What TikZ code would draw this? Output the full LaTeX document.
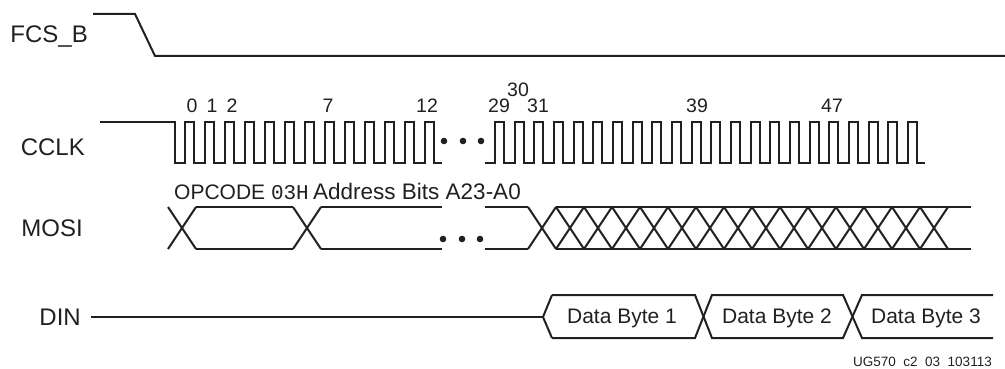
\documentclass[tikz,border=0pt]{standalone}
\usepackage{fontspec}
\setmainfont{Liberation Sans}
\setmonofont{Liberation Mono}
\definecolor{sigln}{HTML}{231F20}

\begin{document}
\begin{tikzpicture}[
    x=1pt,y=-1pt,
    sig/.style={draw=sigln,line width=2pt,line join=miter},
    siglbl/.style={font=\fontsize{24}{28}\selectfont,text=sigln,anchor=base east,inner sep=0pt},
    clknum/.style={font=\fontsize{19.5}{23}\selectfont,text=sigln,anchor=base,inner sep=0pt},
    buslbl/.style={font=\fontsize{21}{25}\selectfont,text=sigln,anchor=base,inner sep=0pt},
  ]
  \useasboundingbox (0,0) rectangle (1005,369);
  \def\hi{122}\def\lo{163}
  \def\mt{207}\def\mb{249}
  \def\dt{295}\def\db{338}
  % signal names
  \node[siglbl] (fcslbl) at (88,43) {FCS\_B};
  \node[siglbl] (clklbl) at (85,155) {CCLK};
  \node[siglbl] (mosilbl) at (83,236) {MOSI};
  \node[siglbl] (dinlbl) at (81,325) {DIN};
  % FCS_B
  \draw[sig] (93,14) -- (135,14) -- (155,56) -- (1005,56);
  % CCLK
  \draw[sig] (100,\hi) -- (175,\hi) -- (175,\lo)
    \foreach \k in {0,...,12}{
      -- ({185+20*\k},\lo) -- ({185+20*\k},\hi) -- ({194+20*\k},\hi) -- ({194+20*\k},\lo)
    } -- (442,\lo);
  \draw[sig] (485,\lo)
    \foreach \k in {0,...,21}{
      -- ({495+19.67*\k},\lo) -- ({495+19.67*\k},\hi) -- ({504+19.67*\k},\hi) -- ({504+19.67*\k},\lo)
    } -- (925,\lo);
  \foreach \x in {444,463,481}
    \fill[sigln] (\x,141) circle (3.3pt);
  \foreach \n/\x in {0/192,1/212,2/232,7/328,12/427,29/499,31/538,39/697,47/832}
    \node[clknum] (c\n) at (\x,113) {\n};
  \node[clknum] (c30) at (518,97) {30};
  % MOSI
  \node[buslbl,anchor=base west] (opc) at (174,199) {OPCODE \texttt{03H}};
  \node[buslbl,anchor=base west,font=\fontsize{22.5}{27}\selectfont] (addr) at (313,199) {Address Bits A23-A0};
  \foreach \a in {168,293}{
    \draw[sig] (\a,\mt) -- ++(28,\mb-\mt);
    \draw[sig] (\a,\mb) -- ++(28,\mt-\mb);
  }
  \draw[sig] (196,\mt) -- (293,\mt) (196,\mb) -- (293,\mb);
  \draw[sig] (321,\mt) -- (442,\mt) (321,\mb) -- (442,\mb);
  \foreach \x in {443,462,480}
    \fill[sigln] (\x,239) circle (3.3pt);
  \draw[sig] (485,\mt) -- (528,\mt) (485,\mb) -- (528,\mb);
  \foreach \k in {0,...,14}{
    \draw[sig] ({528+28*\k},\mt) -- ++(28,\mb-\mt);
    \draw[sig] ({528+28*\k},\mb) -- ++(28,\mt-\mb);
  }
  \draw[sig] (556,\mt) -- (971,\mt) (556,\mb) -- (971,\mb);
  % DIN
  \draw[sig] (91,317) -- (543,317);
  \draw[sig] (552,\dt) -- (543,317) -- (552,\db);
  \draw[sig] (552,\dt) -- (695,\dt) -- (712,\db) -- (843,\db) -- (862,\dt) -- (993,\dt);
  \draw[sig] (552,\db) -- (695,\db) -- (712,\dt) -- (843,\dt) -- (862,\db) -- (993,\db);
  \node[buslbl] (db1) at (622,323) {Data Byte 1};
  \node[buslbl] (db2) at (777,323) {Data Byte 2};
  \node[buslbl] (db3) at (926,323) {Data Byte 3};
  \node[font=\fontsize{13.5}{16}\selectfont,text=sigln,anchor=base east,inner sep=0pt] (docid) at (992,366) {UG570\ \ c2\ \ 03\ \ 103113};
\end{tikzpicture}
\end{document}
